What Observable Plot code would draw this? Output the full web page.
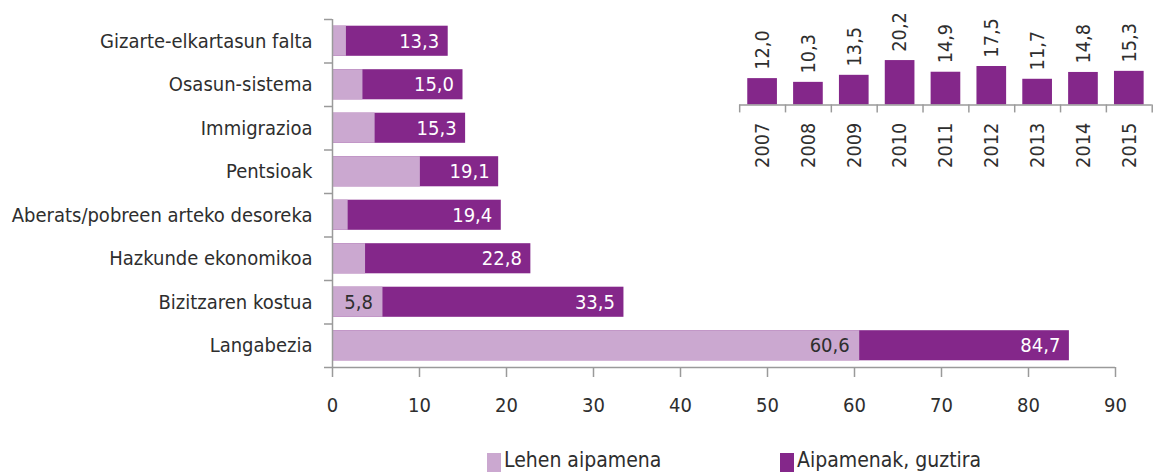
<!DOCTYPE html>
<html><head><meta charset="utf-8">
<script src="https://cdn.jsdelivr.net/npm/d3@7"></script>
<script src="https://cdn.jsdelivr.net/npm/@observablehq/plot@0.6"></script>
<style>
html,body{margin:0;padding:0;background:#fff;overflow:hidden;}
#wrap{position:relative;width:1154px;height:472px;overflow:hidden;}
#main{position:absolute;left:0;top:0;}
#inset{position:absolute;left:730px;top:0;}
#legend{position:absolute;left:0;top:0;width:1154px;height:472px;font-family:"Liberation Sans Narrow","DejaVu Sans Condensed","Arial Narrow",sans-serif;font-size:21px;color:#2e2e2e;}
.sw{position:absolute;top:453px;width:14px;height:20px;}
.lt{position:absolute;top:448px;white-space:nowrap;}
</style></head><body>
<div id="wrap"><div id="main"></div><div id="inset"></div><div id="legend"></div></div>
<script>
const categories = ["Gizarte-elkartasun falta","Osasun-sistema","Immigrazioa","Pentsioak","Aberats/pobreen arteko desoreka","Hazkunde ekonomikoa","Bizitzaren kostua","Langabezia"];
const firstMention = [1.6, 3.5, 4.9, 10.1, 1.8, 3.8, 5.8, 60.6];
const totalMentions = [13.3, 15.0, 15.3, 19.1, 19.4, 22.8, 33.5, 84.7];
const firstLabelShown = [false, false, false, false, false, false, true, true];
const xTicks = [0, 10, 20, 30, 40, 50, 60, 70, 80, 90];
const years = [2007, 2008, 2009, 2010, 2011, 2012, 2013, 2014, 2015];
const yearValues = [12.0, 10.3, 13.5, 20.2, 14.9, 17.5, 11.7, 14.8, 15.3];
const legendLabels = ["Lehen aipamena", "Aipamenak, guztira"];

const LIGHT = "#cba8d0", DARK = "#84278a", AXIS = "#9a9a9a", TEXT = "#2e2e2e";
const FONT = '"Liberation Sans Narrow","DejaVu Sans Condensed","Arial Narrow",sans-serif';
const FS = 20, FSL = 20;
const fmt = v => v.toFixed(1).replace(".", ",");

const rows = categories.map((c, i) => ({i, category: c, first: firstMention[i], total: totalMentions[i], showFirst: firstLabelShown[i]}));
const boundaries = d3.range(categories.length + 1).map(k => k - 0.5);

const main = Plot.plot({
  width: 1154, height: 472,
  marginLeft: 332, marginRight: 39, marginTop: 19, marginBottom: 105,
  style: {fontFamily: FONT, fontSize: FS + "px", color: TEXT, background: "transparent"},
  x: {domain: [0, 90], axis: null},
  y: {domain: [-0.5, categories.length - 0.5], reverse: true, axis: null},
  marks: [
    Plot.rectX(rows, {x1: 0, x2: "total", y1: d => d.i - 0.5, y2: d => d.i + 0.5, insetTop: 6.7, insetBottom: 6.7, fill: DARK}),
    Plot.rectX(rows, {x1: 0, x2: "first", y1: d => d.i - 0.5, y2: d => d.i + 0.5, insetTop: 6.7, insetBottom: 6.7, fill: LIGHT}),
    Plot.text(rows, {x: "total", y: "i", text: d => fmt(d.total), textAnchor: "end", dx: -9, fill: "white", fontSize: FS}),
    Plot.text(rows.filter(d => d.showFirst), {x: "first", y: "i", text: d => fmt(d.first), textAnchor: "end", dx: -10, fill: TEXT, fontSize: FS}),
    Plot.ruleX([0], {stroke: AXIS, strokeWidth: 1.5}),
    Plot.ruleY([categories.length - 0.5], {stroke: AXIS, strokeWidth: 1.5}),
    Plot.axisY({ticks: boundaries, tickSize: 8, tickFormat: () => "", label: null, stroke: AXIS, strokeWidth: 1.5}),
    Plot.axisY({ticks: d3.range(categories.length), tickSize: 0, tickPadding: 20, tickFormat: i => categories[i], label: null, fill: TEXT, fontSize: FSL}),
    Plot.axisX({ticks: xTicks, tickSize: 10, tickPadding: 20, label: null, stroke: AXIS, strokeWidth: 1.5, fill: TEXT, fontSize: FS})
  ]
});
document.getElementById("main").appendChild(main);

const insetRows = years.map((y, i) => ({year: y, value: yearValues[i]}));
const yearBounds = years.map(y => y - 0.5).concat([years[years.length - 1] + 0.5]);
const inset = Plot.plot({
  width: 430, height: 190,
  marginLeft: 9.3, marginRight: 2.3, marginTop: 0, marginBottom: 84,
  style: {fontFamily: FONT, fontSize: FS + "px", color: TEXT, background: "transparent"},
  x: {domain: [years[0] - 0.5, years[years.length - 1] + 0.5], axis: null},
  y: {domain: [0, 47.5], axis: null},
  marks: [
    Plot.rectY(insetRows, {x1: d => d.year - 0.5, x2: d => d.year + 0.5, y1: 0, y2: "value", insetLeft: 8.2, insetRight: 8.2, fill: DARK}),
    Plot.ruleY([0], {stroke: AXIS, strokeWidth: 1.5}),
    Plot.axisX({ticks: yearBounds, tickSize: 8, tickFormat: () => "", label: null, stroke: AXIS, strokeWidth: 1.5}),
    Plot.axisX({ticks: years, tickSize: 0, tickPadding: 18, tickRotate: -90, textAnchor: "end", tickFormat: d => String(d), label: null, fill: TEXT, fontSize: FS}),
    Plot.text(insetRows, {x: "year", y: "value", text: d => fmt(d.value), rotate: -90, textAnchor: "start", dy: -9, fill: TEXT, fontSize: FS})
  ]
});
document.getElementById("inset").appendChild(inset);

const leg = document.getElementById("legend");
const legPos = [487, 780];
legendLabels.forEach((t, k) => {
  const sw = document.createElement("div");
  sw.className = "sw"; sw.style.left = legPos[k] + "px"; sw.style.background = k === 0 ? LIGHT : DARK;
  leg.appendChild(sw);
  const tx = document.createElement("div");
  tx.className = "lt"; tx.style.left = (legPos[k] + 17) + "px"; tx.textContent = t;
  leg.appendChild(tx);
});
</script>
</body></html>
